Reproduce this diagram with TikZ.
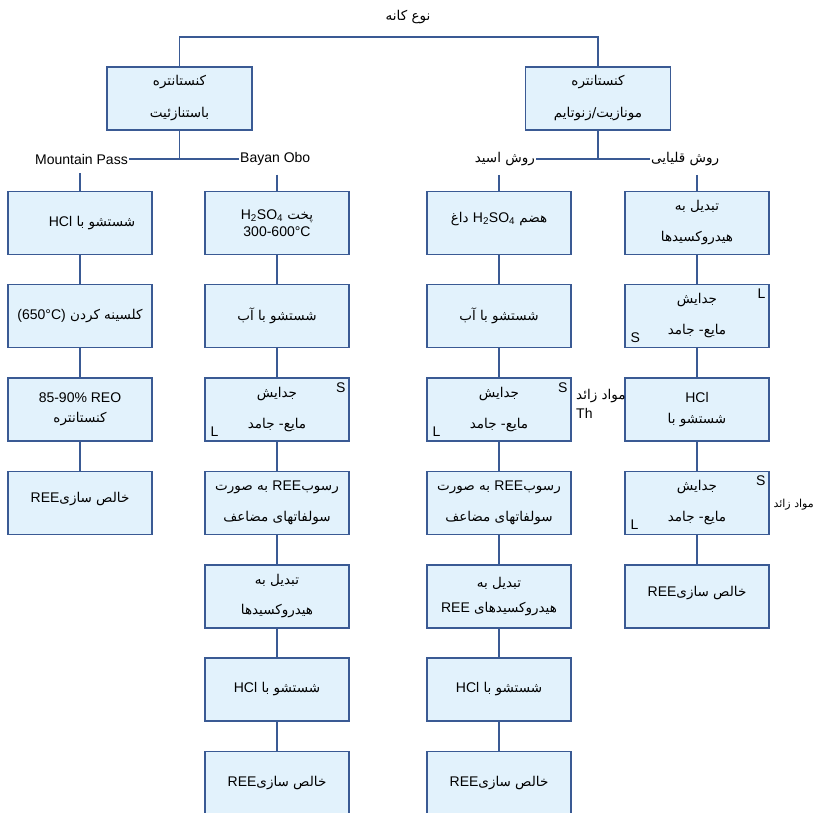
\documentclass[tikz,border=0pt]{standalone}
\usepackage{fontspec}
\setmainfont{Liberation Sans}
\newfontfamily\fa[Script=Arabic]{DejaVu Sans}
\TeXXeTstate=1
% Persian line (right to left) and Latin run inside it
\newcommand\fatext[1]{{\fa\beginR #1\endR}}
\newcommand\enword[1]{\beginL{\rmfamily\fontsize{14}{15}\selectfont #1}\endL}
\definecolor{navy}{HTML}{3A5A94}
\definecolor{boxfill}{HTML}{E2F2FC}
\tikzset{
  stepbox/.style={draw=navy, fill=boxfill, line width=1.1pt,
    minimum width=144pt, minimum height=63pt, align=center, inner sep=2pt,
    font=\fontsize{13.5}{15}\selectfont},
  link/.style={draw=navy, line width=1.1pt},
  lbl/.style={inner sep=1pt, font=\fontsize{13.5}{15}\selectfont},
  corner/.style={inner sep=0pt, font=\fontsize{14}{15}\selectfont}
}
\begin{document}
\begin{tikzpicture}[x=1pt, y=-1pt]
\useasboundingbox (0,0) rectangle (816,812);
\clip (0,0) rectangle (816,812);

% heading
\node[lbl] (title) at (408,17) {\fatext{نوع کانه}};
\coordinate (split) at (408,37);

% the two concentrate types
\node[stepbox, minimum width=145pt] (bast) at (179.5,98.5)
  {\fatext{کنستانتره}\\[17pt]\fatext{باستنازئیت}};
\node[stepbox, minimum width=145pt] (mon) at (598,98.5)
  {\fatext{کنستانتره}\\[17pt]\fatext{مونازیت/زنوتایم}};

% branch labels
\node[lbl, anchor=east] (mp) at (129,159) {\enword{Mountain Pass}};
\node[lbl, anchor=west] (bo) at (239,159) {\enword{Bayan Obo}};
\node[lbl, anchor=east] (acid) at (536,159) {\fatext{روش اسید}};
\node[lbl, anchor=west] (alk) at (650,159) {\fatext{روش قلیایی}};

% column 1: Mountain Pass
\node[stepbox] (a1) at (80,223) {\hspace*{24pt}\fatext{شستشو با \enword{HCl}}};
\node[stepbox] (a2) at (80,316) {\fatext{کلسینه کردن \enword{(650°C)}}};
\node[stepbox] (a3) at (80,409.5) {\enword{85-90\% REO}\\[5pt]\fatext{کنستانتره}};
\node[stepbox] (a4) at (80,503) {\fatext{خالص سازی\enword{REE}}\\[-4pt]};

% column 2: Bayan Obo
\node[stepbox] (b1) at (277,223) {\fatext{پخت \enword{H\textsubscript{2}SO\textsubscript{4}}}\\[2pt]\enword{300-600°C}};
\node[stepbox] (b2) at (277,316) {\fatext{شستشو با آب}};
\node[stepbox] (b3) at (277,409.5) {\fatext{جدایش}\\[16pt]\fatext{مایع- جامد}};
\node[stepbox] (b4) at (277,503) {\fatext{رسوب\enword{REE} به صورت}\\[16pt]\fatext{سولفاتهای مضاعف}};
\node[stepbox] (b5) at (277,596.5) {\fatext{تبدیل به}\\[15pt]\fatext{هیدروکسیدها}};
\node[stepbox] (b6) at (277,689.5) {\fatext{شستشو با \enword{HCl}}};
\node[stepbox] (b7) at (277,783) {\fatext{خالص سازی\enword{REE}}};

% column 3: acid route
\node[stepbox] (c1) at (499,223) {\fatext{هضم \enword{H\textsubscript{2}SO\textsubscript{4}} داغ}\\[-4pt]};
\node[stepbox] (c2) at (499,316) {\fatext{شستشو با آب}};
\node[stepbox] (c3) at (499,409.5) {\fatext{جدایش}\\[16pt]\fatext{مایع- جامد}};
\node[stepbox] (c4) at (499,503) {\fatext{رسوب\enword{REE} به صورت}\\[16pt]\fatext{سولفاتهای مضاعف}};
\node[stepbox] (c5) at (499,596.5) {\fatext{تبدیل به}\\[10pt]\fatext{هیدروکسیدهای \enword{REE}}};
\node[stepbox] (c6) at (499,689.5) {\fatext{شستشو با \enword{HCl}}};
\node[stepbox] (c7) at (499,783) {\fatext{خالص سازی\enword{REE}}};

% column 4: alkaline route
\node[stepbox] (d1) at (697,223) {\fatext{تبدیل به}\\[16pt]\fatext{هیدروکسیدها}};
\node[stepbox] (d2) at (697,316) {\fatext{جدایش}\\[16pt]\fatext{مایع- جامد}};
\node[stepbox] (d3) at (697,409.5) {\enword{HCl}\\[6pt]\fatext{شستشو با}};
\node[stepbox] (d4) at (697,503) {\fatext{جدایش}\\[16pt]\fatext{مایع- جامد}};
\node[stepbox] (d5) at (697,596.5) {\fatext{خالص سازی\enword{REE}}\\[-4pt]};

% solid / liquid outlets of the separation steps
\node[corner, anchor=north east] (b3s) at ([shift={(-4,5)}]b3.north east) {S};
\node[corner, anchor=south west] (b3l) at ([shift={(6,-5)}]b3.south west) {L};
\node[corner, anchor=north east] (c3s) at ([shift={(-4,5)}]c3.north east) {S};
\node[corner, anchor=south west] (c3l) at ([shift={(6,-5)}]c3.south west) {L};
\node[corner, anchor=north east] (d2l) at ([shift={(-4,5)}]d2.north east) {L};
\node[corner, anchor=south west] (d2s) at ([shift={(6,-5)}]d2.south west) {S};
\node[corner, anchor=north east] (d4s) at ([shift={(-4,5)}]d4.north east) {S};
\node[corner, anchor=south west] (d4l) at ([shift={(6,-5)}]d4.south west) {L};

% residues
\node[lbl, anchor=north west, align=left] (waste1) at (575,388)
  {\fatext{مواد زائد}\\[4pt]\enword{Th}};
\node[lbl, anchor=east, font=\fontsize{11}{13}\selectfont] (waste2) at (815,505)
  {\fatext{مواد زائد}};

% connectors
\draw[link] (bast.north) |- (split) -| (mon.north);
\draw[link] (mp.east) -- (bo.west);
\draw[link] (bast.south) -- (bast.south |- mp.east);
\draw[link] (acid.east) -- (alk.west);
\draw[link] (mon.south) -- (mon.south |- acid.east);
\draw[link] (mp.south -| a1.north) ++(0,8) -- (a1.north);
\draw[link] (bo.south -| b1.north) ++(0,8) -- (b1.north);
\draw[link] (acid.south -| c1.north) ++(0,8) -- (c1.north);
\draw[link] (alk.south -| d1.north) ++(0,8) -- (d1.north);
\foreach \u/\v in {a1/a2,a2/a3,a3/a4,
                   b1/b2,b2/b3,b3/b4,b4/b5,b5/b6,b6/b7,
                   c1/c2,c2/c3,c3/c4,c4/c5,c5/c6,c6/c7,
                   d1/d2,d2/d3,d3/d4,d4/d5}
  \draw[link] (\u.south) -- (\v.north);
\end{tikzpicture}
\end{document}
